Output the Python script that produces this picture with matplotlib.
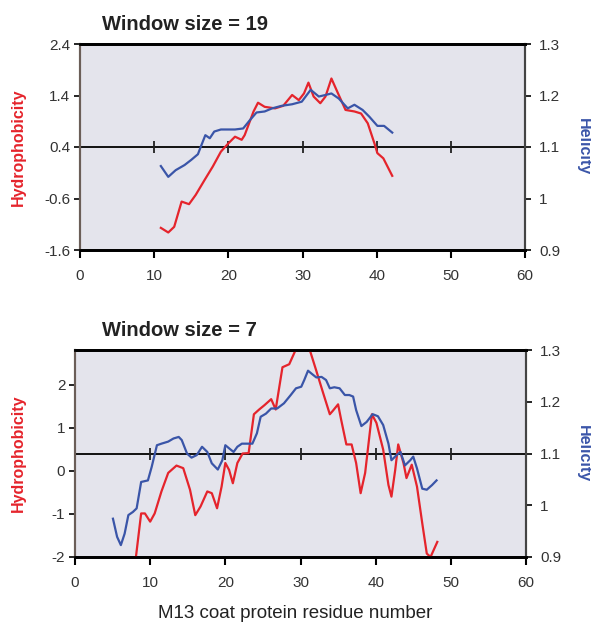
import matplotlib.pyplot as plt

plt.rcParams['font.family'] = ['Liberation Sans', 'DejaVu Sans']

# --- window size = 19 ---
x19_hyd = [10.9, 11.9, 12.7, 13.7, 14.7, 15.6, 16.8, 17.9, 19.0, 20.0, 20.9, 21.8,
           22.2, 23.4, 24.0, 24.9, 26.3, 27.4, 28.6, 29.5, 30.2, 30.8, 31.5, 32.4,
           33.1, 33.9, 34.7, 35.8, 37.0, 37.9, 38.8, 39.7, 40.1, 40.9, 42.1]
hyd19 = [-1.17, -1.26, -1.15, -0.66, -0.71, -0.53, -0.24, 0.02, 0.31, 0.47, 0.60, 0.54,
         0.63, 1.09, 1.26, 1.18, 1.15, 1.20, 1.41, 1.31, 1.44, 1.65, 1.38, 1.25,
         1.38, 1.73, 1.47, 1.12, 1.09, 1.05, 0.86, 0.47, 0.28, 0.18, -0.16]

x19_hel = [10.9, 11.9, 12.9, 14.1, 15.0, 15.9, 16.3, 16.9, 17.5, 18.1, 19.0, 20.9,
           22.0, 22.9, 23.8, 24.9, 25.9, 27.2, 28.6, 29.9, 31.1, 32.2, 33.1, 33.9,
           34.9, 36.1, 37.0, 38.1, 39.0, 40.1, 41.0, 42.1]
hel19 = [1.063, 1.042, 1.055, 1.065, 1.075, 1.086, 1.101, 1.123, 1.117, 1.130, 1.134, 1.134,
         1.136, 1.152, 1.167, 1.169, 1.175, 1.180, 1.183, 1.188, 1.211, 1.198, 1.201, 1.204,
         1.194, 1.175, 1.182, 1.172, 1.159, 1.141, 1.141, 1.128]

# --- window size = 7 ---
x7_hyd = [7.9, 8.8, 9.3, 10.0, 10.6, 11.5, 12.4, 13.5, 14.4, 15.3, 16.0, 16.7, 17.6,
          18.2, 18.9, 19.5, 20.0, 20.5, 21.0, 21.6, 22.3, 23.1, 23.8, 24.5, 25.2,
          26.1, 26.7, 27.6, 28.5, 29.4, 30.2, 31.2, 32.1, 33.0, 33.9, 34.3, 35.0,
          35.4, 36.1, 36.8, 37.4, 38.0, 38.6, 39.5, 40.1, 41.0, 41.7, 42.1, 42.6,
          43.0, 43.7, 44.1, 44.8, 45.5, 46.2, 46.8, 47.3, 48.2]
hyd7 = [-2.3, -0.99, -0.99, -1.18, -0.99, -0.48, -0.05, 0.12, 0.06, -0.44, -1.03, -0.83, -0.48,
        -0.52, -0.87, -0.37, 0.18, 0.02, -0.29, 0.18, 0.40, 0.41, 1.31, 1.42, 1.52,
        1.66, 1.42, 2.40, 2.47, 2.82, 3.1, 2.82, 2.32, 1.81, 1.31, 1.39, 1.54,
        1.19, 0.61, 0.61, 0.18, -0.52, -0.05, 1.31, 1.11, 0.49, -0.33, -0.60, 0.02,
        0.61, 0.18, -0.17, 0.14, -0.37, -1.22, -1.92, -2.0, -1.65]

x7_hel = [5.05, 5.6, 6.1, 6.6, 7.1, 7.7, 8.2, 8.8, 9.7, 10.2, 10.9, 11.5, 12.4, 13.1,
          13.8, 14.2, 14.9, 15.5, 16.2, 16.9, 17.6, 18.2, 19.0, 19.6, 20.0, 20.5,
          21.1, 21.6, 22.2, 22.9, 23.6, 24.2, 24.7, 25.4, 26.1, 26.9, 27.8, 28.7,
          29.4, 30.1, 30.5, 31.0, 31.5, 32.1, 32.8, 33.4, 33.9, 34.5, 35.2, 35.9,
          36.5, 37.0, 37.4, 38.1, 38.8, 39.6, 40.3, 41.0, 41.7, 42.1, 42.8, 43.3,
          43.9, 44.6, 45.0, 45.5, 46.2, 46.8, 47.5, 48.1]
hel7 = [0.974, 0.939, 0.923, 0.945, 0.981, 0.987, 0.994, 1.045, 1.048, 1.074, 1.116, 1.119, 1.123, 1.129,
        1.132, 1.126, 1.100, 1.092, 1.097, 1.113, 1.103, 1.081, 1.069, 1.087, 1.116, 1.110,
        1.103, 1.113, 1.119, 1.119, 1.119, 1.139, 1.171, 1.177, 1.187, 1.187, 1.197, 1.213,
        1.226, 1.229, 1.242, 1.260, 1.254, 1.247, 1.248, 1.242, 1.226, 1.228, 1.226, 1.213,
        1.213, 1.210, 1.184, 1.153, 1.161, 1.176, 1.172, 1.155, 1.119, 1.087, 1.097, 1.103,
        1.077, 1.087, 1.094, 1.071, 1.032, 1.030, 1.039, 1.048]

xticks = [0, 10, 20, 30, 40, 50, 60]
mid_ticks = [10, 20, 30, 40, 50]
hyd_ticks19 = [-1.6, -0.6, 0.4, 1.4, 2.4]
hyd_labels19 = ['-1.6', '-0.6', '0.4', '1.4', '2.4']
hyd_ticks7 = [-2, -1, 0, 1, 2]
hel_ticks = [0.9, 1.0, 1.1, 1.2, 1.3]
hel_labels = ['0.9', '1', '1.1', '1.2', '1.3']

RED = '#e5242c'
BLUE = '#3a55a8'
BG = '#e4e4ec'
W, H = 591, 625

fig = plt.figure(figsize=(W / 100, H / 100), dpi=100)


def panel(rect, title, xh, yh, xl, yl, ylim, yticks, ylabels, title_y):
    l, r, t, b = rect
    ax = fig.add_axes([l / W, 1 - b / H, (r - l) / W, (b - t) / H])
    ax.set_facecolor(BG)
    ax2 = ax.twinx()

    ax.plot(xh, yh, color=RED, lw=1.6, zorder=3, solid_joinstyle='round')
    ax2.plot(xl, yl, color=BLUE, lw=1.6, zorder=3, solid_joinstyle='round')

    ax.set_xlim(0, 60)
    ax.set_ylim(*ylim)
    ax2.set_ylim(0.9, 1.3)

    # reference line at 0.4 / 1.1 with small crossing ticks
    ax.axhline(0.4, color='black', lw=1.3, zorder=2)
    ax.plot(mid_ticks, [0.4] * len(mid_ticks), linestyle='none', marker='|',
            markersize=8, mew=1.3, color='#222222', zorder=2)

    ax.set_xticks(xticks)
    ax.set_yticks(yticks)
    ax.set_yticklabels(ylabels)
    ax2.set_yticks(hel_ticks)
    ax2.set_yticklabels(hel_labels)

    ax.tick_params(axis='x', direction='out', length=6, width=1.5, pad=8,
                   labelsize=11, labelcolor='#333333')
    ax.tick_params(axis='y', direction='out', length=4, width=1.2, pad=3,
                   labelsize=11, labelcolor='#333333')
    ax2.tick_params(axis='y', direction='out', length=4, width=1.2, pad=6,
                    labelsize=11, labelcolor='#333333')

    for a in (ax, ax2):
        a.spines['top'].set_linewidth(2)
        a.spines['bottom'].set_linewidth(2)
        a.spines['left'].set_color('#6b5e58')
        a.spines['left'].set_linewidth(1.5)
        a.spines['right'].set_color('#444444')
        a.spines['right'].set_linewidth(1.5)

    ax.set_ylabel('Hydrophobicity', color=RED, fontsize=11.5, fontweight='bold')
    ax.yaxis.set_label_coords((26 - l) / (r - l), 0.5)
    ax2.set_ylabel('Helicity', color=BLUE, fontsize=11.5, fontweight='bold',
                   rotation=-90, va='center')
    ax2.yaxis.set_label_coords((583 - l) / (r - l), 0.5)

    fig.text(102 / W, 1 - title_y / H, title, fontsize=14.5, fontweight='bold',
             color='#222222', ha='left', va='center')
    return ax


panel((80, 525, 44, 250), 'Window size = 19', x19_hyd, hyd19, x19_hel, hel19,
      (-1.6, 2.4), hyd_ticks19, hyd_labels19, 24)
panel((75, 526, 350, 557), 'Window size = 7', x7_hyd, hyd7, x7_hel, hel7,
      (-2, 2.8), hyd_ticks7, [str(v) for v in hyd_ticks7], 331)

fig.text(295 / W, 1 - 614 / H, 'M13 coat protein residue number', fontsize=13.5,
         color='#222222', ha='center', va='center')

fig.savefig('out.png', dpi=100)
